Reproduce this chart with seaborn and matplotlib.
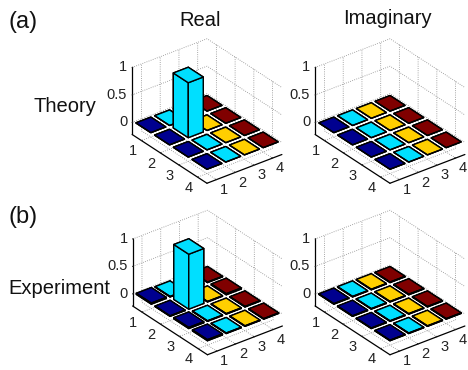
import numpy as np
import matplotlib
matplotlib.use("Agg")
import matplotlib.pyplot as plt
from matplotlib.transforms import ScaledTranslation
import seaborn as sns

# density matrices, rows are y = 1..4, columns are x = 1..4
ticks = [1, 2, 3, 4]
z_ticks = [0, 0.5, 1]
z_labels = ["0", "0.5", "1"]
column_colors = ["#00008f", "#00dfff", "#ffcf00", "#800000"]

real_theory = [[0, 0, 0, 0],
               [0, 1, 0, 0],
               [0, 0, 0, 0],
               [0, 0, 0, 0]]
imag_theory = [[0, 0, 0, 0],
               [0, 0, 0, 0],
               [0, 0, 0, 0],
               [0, 0, 0, 0]]
real_experiment = [[0.02, 0.01, 0.01, 0.01],
                   [0.01, 1.0, 0.01, 0.02],
                   [0.02, 0.01, 0.01, 0.01],
                   [0.02, 0.01, 0.01, 0.01]]
imag_experiment = [[0.01, 0.01, 0.01, 0.01],
                   [0.01, 0.01, 0.01, 0.01],
                   [0.01, 0.01, 0.01, 0.01],
                   [0.01, 0.01, 0.01, 0.01]]

sns.set_style("white", {"grid.linestyle": ":", "grid.color": "#8a8a8a"})
plt.rcParams["font.family"] = ["Liberation Sans", "DejaVu Sans"]
plt.rcParams["grid.linewidth"] = 0.6
plt.rcParams["axes.linewidth"] = 0.8

W, H = 468, 370
fig = plt.figure(figsize=(W / 100, H / 100), dpi=100)


def shift(ax, axis, dx, dy):
    # Axis3D resets label transforms whenever it fetches its ticks, so nudge them there
    offset = ScaledTranslation(dx / 100, dy / 100, fig.dpi_scale_trans)
    original = axis.get_major_ticks

    def get_major_ticks(numticks=None):
        result = original(numticks)
        for t in result:
            t.label1.set_transform(ax.transData + offset)
        return result

    axis.get_major_ticks = get_major_ticks


def bars(values, cx, cy):
    # cx, cy: pixel position of the box centre, measured from the top left
    size = 200
    ax = fig.add_axes([(cx - 0.5135 * size) / W, (H - cy - 0.5135 * size) / H,
                       size / W, size / H], projection="3d", proj_type="ortho")
    ax.patch.set_alpha(0)
    ax.view_init(elev=30, azim=-127.5)
    ax.set_box_aspect((94.5, 123, 77.4), zoom=0.841)

    values = np.array(values, dtype=float)
    xs, ys = np.meshgrid(ticks, ticks)
    colors = [column_colors[i - 1] for i in xs.ravel()]
    ax.bar3d(xs.ravel() - 0.4, ys.ravel() - 0.4, np.zeros(16), 0.8, 0.8, values.ravel(),
             color=colors, edgecolor="black", linewidth=1.0, shade=False)

    ax.set_xlim(0.5, 4.5, view_margin=0)
    ax.set_ylim(4.5, 0.5, view_margin=0)
    ax.set_zlim(-0.22, 1, view_margin=0)
    ax.set_xticks(ticks)
    ax.set_yticks(ticks)
    ax.set_zticks(z_ticks)
    ax.set_zticklabels(z_labels)
    ax.tick_params(axis="x", labelsize=10.5, colors="#222222", pad=-5)
    ax.tick_params(axis="y", labelsize=10.5, colors="#222222", pad=-5)
    ax.tick_params(axis="z", labelsize=10.5, colors="#222222", pad=-2)
    for t in ax.zaxis.get_ticklabels():
        t.set_ha("right")
    shift(ax, ax.xaxis, 4.5, 1.5)
    shift(ax, ax.yaxis, -6, 0)
    shift(ax, ax.zaxis, 7, 5.5)
    for axis in (ax.xaxis, ax.yaxis, ax.zaxis):
        axis.set_pane_color((1, 1, 1, 0))
        axis.pane.set_edgecolor((1, 1, 1, 0))
        axis.line.set_linewidth(0.9)
        axis.line.set_color("black")
        axis._axinfo["tick"]["inward_factor"] = 0.0
        axis._axinfo["tick"]["outward_factor"] = 0.12
    return ax


bars(real_theory, 207, 111)
bars(imag_theory, 390, 111)
bars(real_experiment, 207.5, 282.5)
bars(imag_experiment, 390, 282.5)


def label(x, y, s, size=14.5, ha="center"):
    fig.text(x / W, 1 - y / H, s, fontsize=size, ha=ha, va="center", color="#111111")


label(200, 21, "Real")
label(387, 18, "Imaginary")
label(65, 107, "Theory")
label(59, 288, "Experiment")
label(8, 22, "(a)", size=17, ha="left")
label(8, 217, "(b)", size=17, ha="left")

fig.savefig("out.png", dpi=100)
